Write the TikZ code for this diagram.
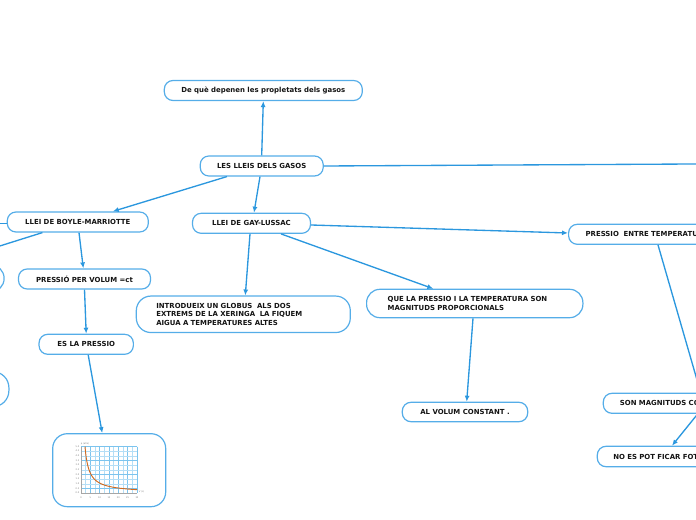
\documentclass[tikz,border=0pt]{standalone}
\usepackage{fontspec}
\setmainfont{DejaVu Sans}
\usetikzlibrary{arrows.meta,calc}
\definecolor{lineblue}{HTML}{2B97DE}
\definecolor{boxblue}{HTML}{55ADE8}
\definecolor{txt}{HTML}{141414}
\definecolor{gridc}{HTML}{B4DEF6}
\definecolor{gridm}{HTML}{7CC4EE}
\definecolor{curvec}{HTML}{D2691E}
\begin{document}
\begin{tikzpicture}[x=0.75pt,y=-0.75pt,
 box/.style={draw=boxblue,line width=0.9pt,rounded corners=6.5pt,fill=white,
   font=\fontsize{5.2}{6.3}\selectfont\bfseries,text=txt,inner sep=0pt},
 wh/.style 2 args={minimum width=#1*0.75pt,minimum height=#2*0.75pt},
 conn/.style={draw=lineblue,line width=1pt},
 arr/.style={conn,-{Latex[length=4.5pt,width=3.8pt]}},
 tick/.style={font=\fontsize{1.7}{1.9}\selectfont,text=gray,inner sep=0pt}]
\useasboundingbox (0,0) rectangle (696,520);
\clip (0,0) rectangle (696,520);

% nodes
\node[box,wh={198}{20}] (deque) at (263.3,90.5) {De què depenen les propletats dels gasos};
\node[box,wh={123}{20}] (lleis) at (261.7,166) {LES LLEIS DELS GASOS};
\node[box,wh={141}{20}] (boyle) at (77.8,222) {LLEI DE BOYLE-MARRIOTTE};
\node[box,wh={118}{20}] (gay) at (251.5,223.3) {LLEI DE GAY-LUSSAC};
\node[box,wh={260}{20},anchor=west,align=left,inner xsep=12.75pt,text width=183pt] (pentre) at (568,234.3) {PRESSIO\ \ ENTRE TEMPERATURA};
\node[box,wh={132}{20}] (ppv) at (84.5,279) {PRESSIÓ PER VOLUM =ct};
\node[box,wh={214}{36.5},anchor=west,align=left,inner xsep=15pt,text width=130.5pt,rounded corners=11pt] (intro) at (135.7,314.3)
  {INTRODUEIX UN GLOBUS\ \ ALS DOS\\EXTREMS DE LA XERINGA\ \ LA FIQUEM\\AIGUA A TEMPERATURES ALTES};
\node[box,wh={216.3}{28.4},anchor=west,align=left,inner xsep=15.75pt,text width=130.7pt,rounded corners=10pt] (que) at (366,303.5)
  {QUE LA PRESSIO I LA TEMPERATURA SON\\MAGNITUDS PROPORCIONALS};
\node[box,wh={94.3}{20}] (esla) at (86.2,344.3) {ES LA PRESSIO};
\node[box,wh={125.4}{19.4}] (alvol) at (465,412) {AL VOLUM CONSTANT .};
\node[box,wh={200}{20},anchor=west,align=left,inner xsep=12.5pt,text width=125pt] (son) at (602.7,403.3) {SON MAGNITUDS CO};
\node[box,wh={200}{20.4},anchor=west,align=left,inner xsep=12pt,text width=126pt] (nofot) at (596.7,456.5) {NO ES POT FICAR FOT};
\node[box,wh={150}{27},anchor=east,rounded corners=10pt] (left1) at (4.7,278.4) {};
\node[box,wh={150}{35},anchor=east,rounded corners=12pt] (left2) at (9.5,389.2) {};
\node[box,wh={113}{73},rounded corners=11pt] (img) at (109.2,470.2) {};

% chart inside image node
\foreach \i in {0,...,12}{
  \draw[gridc,line width=0.3pt] ({81+\i*4.667},446.5) -- ({81+\i*4.667},493);}
\foreach \i in {0,2,...,12}{
  \draw[gridm,line width=0.4pt] ({81+\i*4.667},446.5) -- ({81+\i*4.667},493);}
\foreach \j in {0,...,10}{
  \draw[gridc,line width=0.3pt] (81,{493-\j*4.65}) -- (137,{493-\j*4.65});}
\foreach \j in {1,4,7,10}{
  \draw[gridm,line width=0.4pt] (81,{493-\j*4.65}) -- (137,{493-\j*4.65});}
\draw[gray!70,line width=0.3pt] (81,446.5) -- (81,493) -- (137,493);
\draw[curvec,line width=0.7pt] plot[domain=2.14:30,samples=80,smooth] ({81+\x*1.8667},{493-9.3*10.7/\x});
\foreach \k/\l in {0/0,1/5,2/10,3/15,4/20,5/25,6/30}{
  \node[tick] (xt\k) at ({81+\k*9.333},497.5) {\l};}
\foreach \j/\l in {0/0.0,1/0.5,2/1.0,3/1.5,4/2.0,5/2.5,6/3.0,7/3.5,8/4.0,9/4.5,10/5.0}{
  \node[tick,anchor=east] (yt\j) at (79.5,{493-\j*4.65}) {\l};}
\node[tick] (ylab) at (85,443.5) {p (atm)};
\node[tick] (xlab) at (141.5,491.5) {V (L)};

% off-canvas coordinates
\coordinate (offR) at (730,163.8);
\coordinate (offL) at (-40,223.5);
\coordinate (offLD) at (-60,264.8);

% connectors
\draw[arr] (lleis.north) -- (deque.south);
\draw[arr] ($(lleis.south west)+(27.3,0)$) -- ($(boyle.north)+(35,0)$);
\draw[arr] ($(lleis.south)+(-1.7,0)$) -- ($(gay.north)+(2.5,0)$);
\draw[conn] (lleis.east) -- (offR);
\draw[conn] (boyle.west |- 0,223.5) -- (offL);
\draw[conn] ($(boyle.south west)+(35.7,0)$) -- (offLD);
\draw[arr] ($(boyle.south)+(1.2,0)$) -- ($(ppv.north)+(-1.2,0)$);
\draw[arr] (ppv.south) -- (esla.north);
\draw[arr] ($(esla.south)+(2,0)$) -- ($(img.north)+(-7,0)$);
\draw[arr] ($(gay.south)+(-1.5,0)$) -- ($(intro.north west)+(109.6,0)$);
\draw[arr] ($(gay.south)+(29.5,0)$) -- ($(que.north west)+(67.3,0)$);
\draw[arr] ($(gay.east)+(0,1.7)$) -- ($(pentre.west)+(0,-1.3)$);
\draw[arr] ($(que.south west)+(107,0)$) -- ($(alvol.north)+(1.7,0)$);
\draw[arr] ($(pentre.south west)+(90,0)$) -- ($(son.north west)+(98,0)$);
\draw[arr] ($(son.south west)+(95,0)$) -- ($(nofot.north west)+(75.3,0)$);
\end{tikzpicture}
\end{document}
